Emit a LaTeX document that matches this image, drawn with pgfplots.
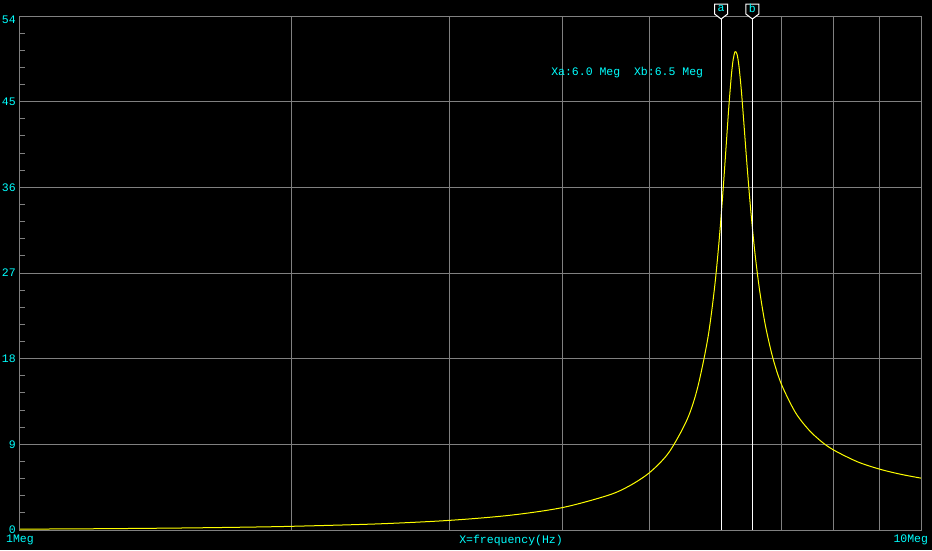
\documentclass[border=0pt]{standalone}
\usepackage{pgfplots}
\pgfplotsset{compat=1.18}
\usepackage{fontspec}
\setmainfont{Liberation Mono}
\usetikzlibrary{calc}
\definecolor{scopecyan}{RGB}{0,255,255}
\definecolor{scopegray}{RGB}{128,128,128}
\definecolor{scopeyellow}{RGB}{255,255,0}
\newcommand{\lbl}{\fontsize{11.5}{13}\selectfont}
\begin{document}
\begin{tikzpicture}
\fill[black] (0,0) rectangle (932pt,550pt);
\path[use as bounding box] (0,0) rectangle (932pt,550pt);
\begin{axis}[
  at={(20pt,20pt)}, anchor=south west,
  scale only axis, width=901pt, height=514pt,
  xmode=log, log basis x=10,
  xmin=1, xmax=10, ymin=0, ymax=54,
  xtick={1,10}, xticklabels={1Meg,\makebox[14pt][r]{10Meg}},
  minor xtick={2,3,4,5,6,7,8,9},
  ytick={0,9,18,27,36,45,54},
  yticklabels={0,9,18,27,36,45,\raisebox{-3.5pt}[\height][\depth]{54}},
  minor y tick num=4,
  xmajorgrids, xminorgrids, ymajorgrids,
  grid style={scopegray, line width=1pt},
  minor x grid style={scopegray, line width=1pt},
  axis line style={scopegray, line width=1pt},
  major tick length=0pt,
  minor tick length=5pt,
  tick align=inside,
  tick pos=left,
  tick style={scopegray, line width=1pt},
  minor x tick style={draw=none},
  ticklabel style={font=\lbl, text=scopecyan},
  xticklabel style={anchor=north, inner sep=0pt, yshift=-5pt},
  yticklabel style={anchor=east, inner sep=0pt, xshift=-4pt},
  xlabel={X=frequency(Hz)},
  xlabel style={at={(axis description cs:0.545,0)}, anchor=north, inner sep=0pt, yshift=-5pt, font=\lbl, text=scopecyan},
  clip=false,
]
\addplot[scopeyellow, line width=1pt, smooth] coordinates {
(1,0.089) (1.25,0.141) (1.5,0.207) (1.75,0.288) (2,0.386) (2.5,0.645) (3,1.015) (3.5,1.550) (4,2.356) (4.5,3.660) (4.75,4.653) (5,6.049) (5.25,8.145) (5.5,11.59) (5.65,14.94) (5.8,20.15) (5.9,25.43) (5.97,30.41) (6.03,35.66) (6.08,40.56) (6.12,44.46) (6.16,47.79) (6.19,49.49) (6.22,50.25) (6.25,49.97) (6.28,48.75) (6.32,46.06) (6.36,42.73) (6.41,38.44) (6.47,33.75) (6.54,29.23) (6.62,25.21) (6.72,21.47) (6.85,18.05) (7,15.32) (7.25,12.40) (7.5,10.57) (7.75,9.31) (8,8.40) (8.5,7.17) (9,6.39) (9.5,5.85) (10,5.45)
};
\addplot[white, line width=1pt] coordinates {(6,0) (6,54)};
\addplot[white, line width=1pt] coordinates {(6.5,0) (6.5,54)};
\coordinate (ca) at (axis cs:6,54);
\coordinate (cb) at (axis cs:6.5,54);
\node[anchor=base west, text=scopecyan, font=\lbl, inner sep=0pt] at (axis cs:3.886,47.8) {Xa:6.0~Meg~~Xb:6.5~Meg};
\end{axis}
\foreach \c/\t in {ca/a,cb/b}{
  \draw[white, fill=black, line width=1pt] ($(\c)+(0,-3pt)$) -- ++(-6.5pt,5pt) -- ++(0,10pt) -- ++(13pt,0) -- ++(0,-10pt) -- cycle;
  \node[text=scopecyan, font=\lbl, inner sep=0pt] at ($(\c)+(0,7.5pt)$) {\t};
}
\end{tikzpicture}
\end{document}
